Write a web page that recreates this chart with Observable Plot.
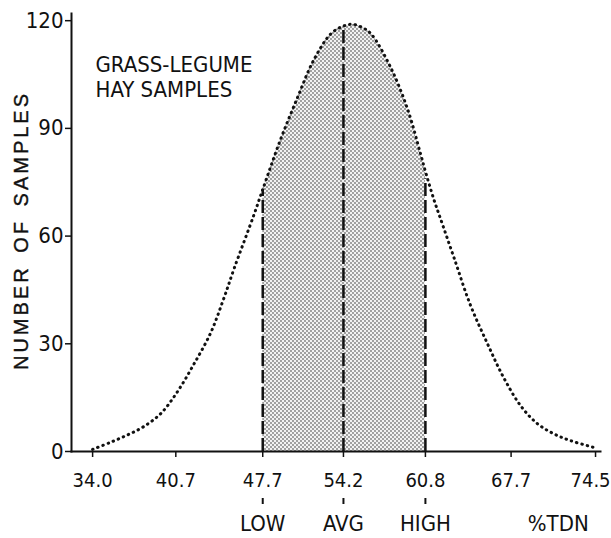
<!DOCTYPE html>
<html><head><meta charset="utf-8">
<script src="https://cdn.jsdelivr.net/npm/d3@7"></script>
<script src="https://cdn.jsdelivr.net/npm/@observablehq/plot@0.6"></script>
<style>body{margin:0;background:#fff}</style>
</head><body><div id="chart"></div>
<script>
// Data
const curveTdn   = [34.0, 35.4, 36.8, 38.1, 39.5, 40.8, 42.1, 43.5, 44.5, 45.4, 47.0, 47.7, 49.1, 50.5, 51.8, 53.2, 54.2, 54.9, 55.6, 56.4, 58.0, 59.4, 60.4, 60.8, 61.5, 62.0, 63.1, 64.4, 65.8, 67.1, 68.5, 69.8, 71.1, 72.5, 74.5];
const curveCount = [0.6, 2.5, 4.6, 6.9, 10.6, 16.5, 24, 33, 42, 51, 66, 73, 86.6, 98.6, 109, 116.4, 118.5, 119, 118.3, 116.4, 107, 95, 83, 78, 70, 65, 54, 41, 30, 20.6, 12.6, 7.8, 5, 3, 1];
const markerTdn = [47.7, 54.2, 60.8];
const markerCount = [73, 118, 76];
const markerLabels = ["LOW", "AVG", "HIGH"];
const unitLabel = "%TDN";
const unitTdn = 71.5;
const xTicks = [34.0, 40.7, 47.7, 54.2, 60.8, 67.7, 74.5];
const yTicks = [0, 30, 60, 90, 120];
const titleLines = ["GRASS-LEGUME", "HAY SAMPLES"];
const yLabel = "NUMBER OF SAMPLES";

const curve = curveTdn.map((x, i) => ({x, y: curveCount[i]}));
const shaded = curve.filter(d => d.x >= markerTdn[0] && d.x <= markerTdn[2]);
const markers = markerTdn.map((x, i) => ({x, y: markerCount[i], label: markerLabels[i]}));
const ink = "#111";
const narrow = "'Liberation Sans Narrow', 'Arial Narrow', 'DejaVu Sans Condensed', sans-serif";
const regular = "'Liberation Sans', Arial, sans-serif";

const chart = Plot.plot({
  width: 611, height: 538,
  marginLeft: 71, marginRight: 11, marginTop: 13, marginBottom: 87,
  x: {domain: [32.3, 74.9]},
  y: {domain: [0, 122]},
  style: {fontFamily: narrow, fontSize: "22px", color: ink, background: "#fff"},
  marks: [
    Plot.areaY(shaded, {x: "x", y: "y", fill: "#cccccc", curve: "catmull-rom"}),
    Plot.lineY(curve, {x: "x", y: "y", stroke: ink, strokeWidth: 3, strokeDasharray: "0.5,5", strokeLinecap: "round", curve: "catmull-rom"}),
    Plot.ruleX(markers, {x: "x", y1: 0, y2: "y", stroke: ink, strokeWidth: 2.5, strokeDasharray: "13,4"}),
    Plot.frame({anchor: "left", stroke: ink, strokeWidth: 2}),
    Plot.frame({anchor: "bottom", stroke: ink, strokeWidth: 2}),
    Plot.axisX({ticks: xTicks, tickFormat: d => d.toFixed(1), tickSize: 6, tickPadding: 15, label: null, fontSize: 20, stroke: ink, strokeWidth: 1.5}),
    Plot.axisY({ticks: yTicks, tickSize: 6, tickPadding: 2, label: null, fontSize: 22, stroke: ink, strokeWidth: 1.5}),
    Plot.ruleX(markers, {x: "x", y1: 0, y2: 0, insetBottom: -6, dy: 47, stroke: ink, strokeWidth: 2}),
    Plot.text(markers, {x: "x", frameAnchor: "bottom", text: "label", lineAnchor: "top", dy: 64, fontSize: 22, fill: ink}),
    Plot.text([unitLabel], {x: () => unitTdn, frameAnchor: "bottom", text: d => d, lineAnchor: "top", dy: 64, fontSize: 22, fill: ink}),
    Plot.text([titleLines.join("\n")], {frameAnchor: "top-left", text: d => d, textAnchor: "start", lineAnchor: "top", dx: 24, dy: 41, lineHeight: 1.13, fontSize: 22, fill: ink}),
    Plot.text([yLabel], {frameAnchor: "left", text: d => d, rotate: -90, textAnchor: "middle", dx: -50, dy: -2, fontSize: 20, fontFamily: regular, fill: ink})
  ]
});
document.getElementById("chart").appendChild(chart);

const svg = d3.select(chart);
const defs = svg.insert("defs", ":first-child");
const pat = defs.append("pattern").attr("id", "stipple").attr("width", 4).attr("height", 4).attr("patternUnits", "userSpaceOnUse");
pat.append("rect").attr("width", 4).attr("height", 4).attr("fill", "#f2f2f2");
pat.append("circle").attr("cx", 1).attr("cy", 1).attr("r", 0.9).attr("fill", "#7a7a7a");
pat.append("circle").attr("cx", 3).attr("cy", 3).attr("r", 0.9).attr("fill", "#7a7a7a");
svg.selectAll('[fill="#cccccc"]').attr("fill", "url(#stipple)");
svg.selectAll("text").filter(function() { return this.textContent === yLabel; })
  .attr("letter-spacing", "3px").attr("word-spacing", "4px").attr("stroke", ink).attr("stroke-width", 0.4);
// keep the last x tick label inside the picture, as in the reference
svg.selectAll("text").filter(function() { return this.textContent === "74.5"; }).attr("dx", -5);
</script>
</body></html>
